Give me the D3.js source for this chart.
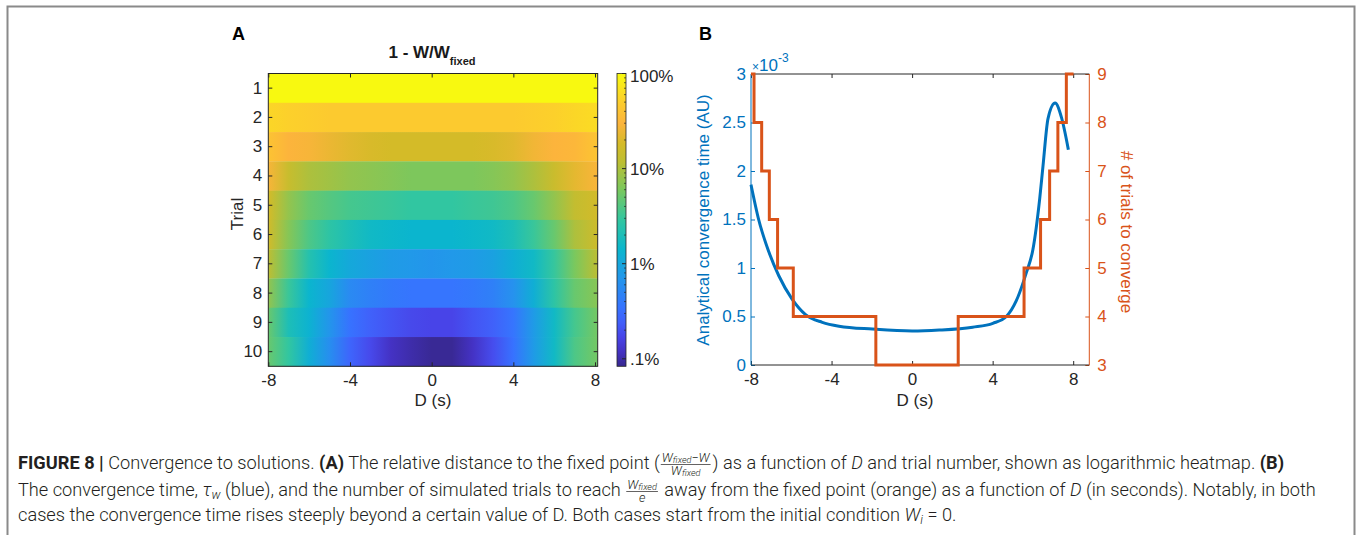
<!DOCTYPE html>
<html>
<head>
<meta charset="utf-8">
<script src="https://cdn.jsdelivr.net/npm/d3@7"></script>
<style>
  body { margin: 0; background: #fff; }
  svg { display: block; }
  text { font-family: "Liberation Sans", Arial, sans-serif; }
  .cap text { font-family: Roboto, "Liberation Sans", sans-serif; font-weight: 300; fill: #231f20; white-space: pre; }
</style>
</head>
<body>
<script>
// ---- panel A data: 1 - W/W_fixed (percent), rows = trials, cols = D (s)
const dValues = [-8, -7, -6, -5, -4, -3, -2, -1, 0, 1, 2, 3, 4, 5, 6, 7, 8]
const trials = [1, 2, 3, 4, 5, 6, 7, 8, 9, 10]
const relDistance = [
  [98, 98, 98, 98, 98, 98, 98, 98, 98, 98, 98, 98, 98, 98, 98, 98, 98],
  [57, 52, 49, 46, 46, 46, 46, 46, 46, 46, 46, 46, 46, 49, 52, 57, 61],
  [40, 30, 28, 24, 21, 19, 18, 18, 18, 18, 18, 19, 21, 26, 30, 32, 40],
  [28, 14, 10, 8.8, 7.7, 7.2, 6.7, 6.2, 6.2, 6.2, 6.2, 6.7, 7.7, 10, 15, 22, 28],
  [18, 7.7, 5.0, 4.1, 3.5, 3.3, 3.1, 2.85, 2.85, 2.85, 3.1, 3.3, 3.8, 5.0, 7.7, 13, 17],
  [17, 6.7, 3.8, 2.65, 2.0, 1.6, 1.5, 1.4, 1.4, 1.4, 1.5, 1.6, 2.0, 3.1, 5.0, 10, 15],
  [12, 5.0, 2.3, 1.4, 1.05, 0.9, 0.79, 0.74, 0.69, 0.74, 0.79, 0.9, 1.2, 1.6, 3.0, 6.0, 11],
  [7.7, 3.1, 1.4, 0.98, 0.55, 0.45, 0.39, 0.36, 0.36, 0.36, 0.39, 0.45, 0.64, 1.2, 2.65, 5.0, 6.7],
  [5.0, 2.0, 1.3, 0.69, 0.34, 0.25, 0.21, 0.18, 0.17, 0.17, 0.21, 0.25, 0.36, 0.79, 1.6, 3.5, 5.4],
  [5.0, 2.85, 1.2, 0.6, 0.27, 0.18, 0.12, 0.10, 0.087, 0.087, 0.12, 0.19, 0.34, 0.79, 1.6, 3.8, 5.4]
]
const cbarTicks = [0.1, 1, 10, 100]
const cbarLabels = ['.1%', '1%', '10%', '100%']
const xTicks = [-8, -4, 0, 4, 8]

// ---- panel B data
const convD = [-8, -7.62, -7.12, -6.62, -5.96, -5.29, -4.46, -3.63, -1.97, 0, 1.35, 3.01, 4.01, 4.68, 5.17, 5.67, 6.0, 6.34, 6.5, 6.75, 7.1, 7.42, 7.76]
const convTime = [1.86, 1.50, 1.17, 0.92, 0.68, 0.52, 0.44, 0.40, 0.37, 0.35, 0.36, 0.39, 0.43, 0.50, 0.66, 0.95, 1.19, 1.72, 2.05, 2.54, 2.70, 2.55, 2.22] // x 1e-3
const stepD = [-8, -7.85, -7.47, -7.09, -6.68, -5.9, -1.8, 2.29, 5.56, 6.38, 6.83, 7.24, 7.66, 8.02]
const stepTrials = [9, 8, 7, 6, 5, 4, 3, 4, 5, 6, 7, 8, 9, 9]
const leftTicks = [0, 0.5, 1, 1.5, 2, 2.5, 3]
const rightTicks = [3, 4, 5, 6, 7, 8, 9]

const blue = '#0072bd'
const orange = '#d95319'
const axisCol = '#262626'

// parula-like colormap as it appears in the figure
const palT = [0, 0.05, 0.1, 0.15, 0.2, 0.3, 0.4, 0.5, 0.6, 0.7, 0.76, 0.83, 0.9, 1]
const palC = ['#37288f', '#4432c3', '#4844e8', '#415ffa', '#3773ff', '#2396eb', '#0ab6cd', '#32c6a0',
  '#78c85f', '#bebe32', '#d5bb28', '#fcb43c', '#fccd2d', '#f8fa0f']
const pal = d3.scaleLinear().domain(palT).range(palC).interpolate(d3.interpolateRgb).clamp(true)

const vMin = 0.0834, vMax = 100
const tScale = d3.scaleLog().domain([vMin, vMax]).range([0, 1]).clamp(true)
const color = v => pal(tScale(v))

const width = 1358
const height = 535
const plain = d => String(d)

const svg = d3.select('body')
  .append('svg')
  .attr('width', width)
  .attr('height', height)

const defs = svg.append('defs')

// figure frame
svg.append('path')
  .attr('d', 'M7.5,560V6.5H1354.5V560')
  .attr('fill', 'none')
  .attr('stroke', '#8a8a8a')
  .attr('stroke-width', 2)

// ================= panel A =================
const xA = d3.scaleLinear().domain([-8, 8.13]).range([268.3, 597.7])
const yA = d3.scaleBand().domain(trials).range([73.5, 366.3])
const cbY = d3.scaleLog().domain([vMin, vMax]).range([366.3, 73.5])

const A = svg.append('g')

A.append('text').attr('x', 232).attr('y', 40)
  .style('font-size', '18px').style('font-weight', 'bold').text('A')

const title = A.append('text').attr('x', 432).attr('y', 58)
  .attr('text-anchor', 'middle').style('font-weight', 'bold').style('font-size', '17px')
  .attr('fill', '#1a1a1a')
title.append('tspan').text('1 - W/W')
title.append('tspan').attr('dy', 7).style('font-size', '11px').text('fixed')

// heatmap rows, one horizontal gradient per trial
const x0 = xA.range()[0], x1 = xA.range()[1]
relDistance.forEach((row, i) => {
  const g = defs.append('linearGradient')
    .attr('id', 'row' + i)
    .attr('gradientUnits', 'userSpaceOnUse')
    .attr('x1', x0).attr('x2', x1).attr('y1', 0).attr('y2', 0)
  row.forEach((v, j) => {
    g.append('stop')
      .attr('offset', (xA(dValues[j]) - x0) / (x1 - x0))
      .attr('stop-color', color(v))
  })
})

A.append('g')
  .selectAll('rect')
  .data(trials)
  .enter()
  .append('rect')
  .attr('x', x0)
  .attr('y', d => yA(d))
  .attr('width', x1 - x0)
  .attr('height', yA.bandwidth() + 0.3)
  .attr('fill', (d, i) => `url(#row${i})`)

const styleAxis = (g, col) => {
  g.select('.domain').remove()
  g.selectAll('line').attr('stroke', col).attr('stroke-width', 1)
  g.selectAll('text').attr('fill', col).style('font-size', '17px')
    .style('font-family', '"Liberation Sans", Arial, sans-serif')
}

A.append('g').attr('transform', `translate(0,${yA.range()[1]})`)
  .call(d3.axisBottom(xA).tickValues(xTicks).tickSize(-4).tickPadding(8).tickFormat(plain))
  .call(g => styleAxis(g, axisCol))
A.append('g').attr('transform', `translate(0,${yA.range()[0]})`)
  .call(d3.axisTop(xA).tickValues(xTicks).tickSize(-4).tickFormat(''))
  .call(g => styleAxis(g, axisCol))
A.append('g').attr('transform', `translate(${x0},0)`)
  .call(d3.axisLeft(yA).tickSize(-4).tickPadding(6))
  .call(g => styleAxis(g, axisCol))
A.append('g').attr('transform', `translate(${x1},0)`)
  .call(d3.axisRight(yA).tickSize(-4).tickFormat(''))
  .call(g => styleAxis(g, axisCol))

A.append('rect')
  .attr('x', x0).attr('y', yA.range()[0])
  .attr('width', x1 - x0).attr('height', yA.range()[1] - yA.range()[0])
  .attr('fill', 'none').attr('stroke', axisCol).attr('stroke-width', 1)

A.append('text').attr('transform', 'translate(243,214) rotate(-90)')
  .attr('text-anchor', 'middle').style('font-size', '17px').attr('fill', axisCol).text('Trial')
A.append('text').attr('x', 433).attr('y', 406)
  .attr('text-anchor', 'middle').style('font-size', '17px').attr('fill', axisCol).text('D (s)')

// colorbar
const cb = { x: 617, w: 9 }
const cg = defs.append('linearGradient').attr('id', 'cbar')
  .attr('x1', 0).attr('x2', 0).attr('y1', 1).attr('y2', 0)
palT.forEach((t, i) => cg.append('stop').attr('offset', t).attr('stop-color', palC[i]))

A.append('rect')
  .attr('x', cb.x).attr('y', cbY.range()[1])
  .attr('width', cb.w).attr('height', cbY.range()[0] - cbY.range()[1])
  .attr('fill', 'url(#cbar)')
  .attr('stroke', axisCol).attr('stroke-width', 0.8)

const minor = []
for (let k = -1; k <= 1; k++) for (let m = 2; m <= 9; m++) minor.push(m * Math.pow(10, k))
A.append('g').selectAll('line')
  .data(minor.filter(v => v >= vMin && v <= vMax))
  .enter().append('line')
  .attr('x1', cb.x + cb.w).attr('x2', cb.x + cb.w - 2)
  .attr('y1', d => cbY(d)).attr('y2', d => cbY(d))
  .attr('stroke', axisCol).attr('stroke-width', 0.7)
A.append('g').selectAll('line')
  .data(cbarTicks)
  .enter().append('line')
  .attr('x1', cb.x + cb.w).attr('x2', cb.x + cb.w - 4)
  .attr('y1', d => cbY(d)).attr('y2', d => cbY(d))
  .attr('stroke', axisCol).attr('stroke-width', 1)
A.append('g').selectAll('text')
  .data(cbarTicks)
  .enter().append('text')
  .attr('x', 630)
  .attr('y', d => Math.max(cbY(d), 76))
  .attr('dy', '0.35em')
  .style('font-size', '17px').attr('fill', axisCol)
  .text((d, i) => cbarLabels[i])

// ================= panel B =================
const xB = d3.scaleLinear().domain([-8, 8.8]).range([751, 1089.3])
const yL = d3.scaleLinear().domain([0, 3]).range([365, 74])
const yR = d3.scaleLinear().domain([3, 9]).range([365, 74])

const B = svg.append('g')

B.append('text').attr('x', 699).attr('y', 40)
  .style('font-size', '18px').style('font-weight', 'bold').text('B')

B.append('g').attr('transform', `translate(0,365)`)
  .call(d3.axisBottom(xB).tickValues(xTicks).tickSize(-4).tickPadding(8).tickFormat(plain))
  .call(g => styleAxis(g, axisCol))
B.append('g').attr('transform', `translate(0,74)`)
  .call(d3.axisTop(xB).tickValues(xTicks).tickSize(-4).tickFormat(''))
  .call(g => styleAxis(g, axisCol))
B.append('g').attr('transform', `translate(751,0)`)
  .call(d3.axisLeft(yL).tickValues(leftTicks).tickSize(-4).tickPadding(5).tickFormat(plain))
  .call(g => styleAxis(g, blue))
B.append('g').attr('transform', `translate(1089.3,0)`)
  .call(d3.axisRight(yR).tickValues(rightTicks).tickSize(-4).tickPadding(8).tickFormat(plain))
  .call(g => styleAxis(g, orange))

B.append('line').attr('x1', 751).attr('x2', 1089.3).attr('y1', 365).attr('y2', 365)
  .attr('stroke', axisCol)
B.append('line').attr('x1', 751).attr('x2', 1089.3).attr('y1', 74).attr('y2', 74)
  .attr('stroke', axisCol)
B.append('line').attr('x1', 751).attr('x2', 751).attr('y1', 74).attr('y2', 365)
  .attr('stroke', blue)
B.append('line').attr('x1', 1089.3).attr('x2', 1089.3).attr('y1', 74).attr('y2', 365)
  .attr('stroke', orange)

// exponent label
const expo = B.append('text').attr('x', 752).attr('y', 71).attr('fill', blue).style('font-size', '17px')
expo.append('tspan').style('font-size', '12px').text('×')
expo.append('tspan').text('10')
expo.append('tspan').attr('dy', -9).style('font-size', '12px').text('-3')

const convLine = d3.line()
  .x((d, i) => xB(convD[i]))
  .y(d => yL(d))
  .curve(d3.curveMonotoneX)

B.append('path')
  .attr('d', convLine(convTime))
  .attr('fill', 'none')
  .attr('stroke', blue)
  .attr('stroke-width', 3)
  .attr('stroke-linejoin', 'round')

const stepLine = d3.line()
  .x((d, i) => xB(stepD[i]))
  .y(d => yR(d))
  .curve(d3.curveStepAfter)

B.append('path')
  .attr('d', stepLine(stepTrials))
  .attr('fill', 'none')
  .attr('stroke', orange)
  .attr('stroke-width', 3)

B.append('text').attr('transform', 'translate(709,220) rotate(-90)')
  .attr('text-anchor', 'middle').style('font-size', '17px').attr('fill', blue)
  .text('Analytical convergence time (AU)')
B.append('text').attr('transform', 'translate(1121,232) rotate(90)')
  .attr('text-anchor', 'middle').style('font-size', '17px').attr('fill', orange)
  .text('# of trials to converge')
B.append('text').attr('x', 915).attr('y', 406)
  .attr('text-anchor', 'middle').style('font-size', '17px').attr('fill', axisCol).text('D (s)')

// ================= caption =================
let cap = svg.append('g').attr('class', 'cap')
let fs = 15

function piece(x, y, p) {
  const size = p.size || (p.sub ? fs * 0.68 : fs)
  const t = cap.append('text')
    .attr('x', x)
    .attr('y', y + (p.sub ? 3 : 0))
    .style('font-size', size + 'px')
    .style('font-weight', p.b ? 700 : null)
    .style('font-style', p.i ? 'italic' : null)
    .text(p.t)
  return t.node().getComputedTextLength()
}

function runWidth(parts, size) {
  let w = 0
  parts.forEach(p => {
    const t = cap.append('text').style('font-size', (p.sub ? size * 0.72 : size) + 'px')
      .style('font-style', p.i ? 'italic' : null).text(p.t)
    w += t.node().getComputedTextLength()
    t.remove()
  })
  return w
}

function frac(x, y, num, den) {
  const s = fs * 0.7
  const wn = runWidth(num, s), wd = runWidth(den, s)
  const w = Math.max(wn, wd) + 2
  let cx = x + 1 + (w - wn) / 2
  num.forEach(p => { cx += piece(cx, y - 7 + (p.sub ? 1 : 0), { t: p.t, i: p.i, size: p.sub ? s * 0.72 : s }) })
  cap.append('line').attr('x1', x + 1).attr('x2', x + 1 + w).attr('y1', y - 4.5).attr('y2', y - 4.5)
    .attr('stroke', '#231f20').attr('stroke-width', 0.7)
  cx = x + 1 + (w - wd) / 2
  den.forEach(p => { cx += piece(cx, y + 6 + (p.sub ? 1 : 0), { t: p.t, i: p.i, size: p.sub ? s * 0.72 : s }) })
  return w + 3
}

function line(x, y, parts) {
  let cx = x
  parts.forEach(p => {
    if (p.frac) cx += frac(cx, y, p.num, p.den)
    else cx += piece(cx, y, p)
  })
  return cx - x
}

const wFixed = [{ t: 'W', i: 1 }, { t: 'fixed', i: 1, sub: 1 }]
const capLine1 = [
  { t: 'FIGURE 8 | ', b: 1 },
  { t: 'Convergence to solutions. ' },
  { t: '(A)', b: 1 },
  { t: ' The relative distance to the fixed point (' },
  { frac: 1, num: wFixed.concat([{ t: '−W', i: 1 }]), den: wFixed },
  { t: ') as a function of ' },
  { t: 'D', i: 1 },
  { t: ' and trial number, shown as logarithmic heatmap. ' },
  { t: '(B)', b: 1 }
]
const capLine2 = [
  { t: 'The convergence time, ' },
  { t: 'τ', i: 1 },
  { t: 'w', i: 1, sub: 1 },
  { t: ' (blue), and the number of simulated trials to reach ' },
  { frac: 1, num: wFixed, den: [{ t: 'e', i: 1 }] },
  { t: ' away from the fixed point (orange) as a function of ' },
  { t: 'D', i: 1 },
  { t: ' (in seconds). Notably, in both' }
]
const capLine3 = [
  { t: 'cases the convergence time rises steeply beyond a certain value of D. Both cases start from the initial condition ' },
  { t: 'W', i: 1 },
  { t: 'i', i: 1, sub: 1 },
  { t: ' = 0.' }
]

function drawCaption() {
  cap.selectAll('*').remove()
  line(18, 469, capLine1)
  const w2 = line(18, 496, capLine2)
  line(18, 521, capLine3)
  return w2
}

// fit the caption width to the figure frame (line 2 spans the full width)
const w2 = drawCaption()
fs = fs * 1300 / w2
drawCaption()
</script>
</body>
</html>
